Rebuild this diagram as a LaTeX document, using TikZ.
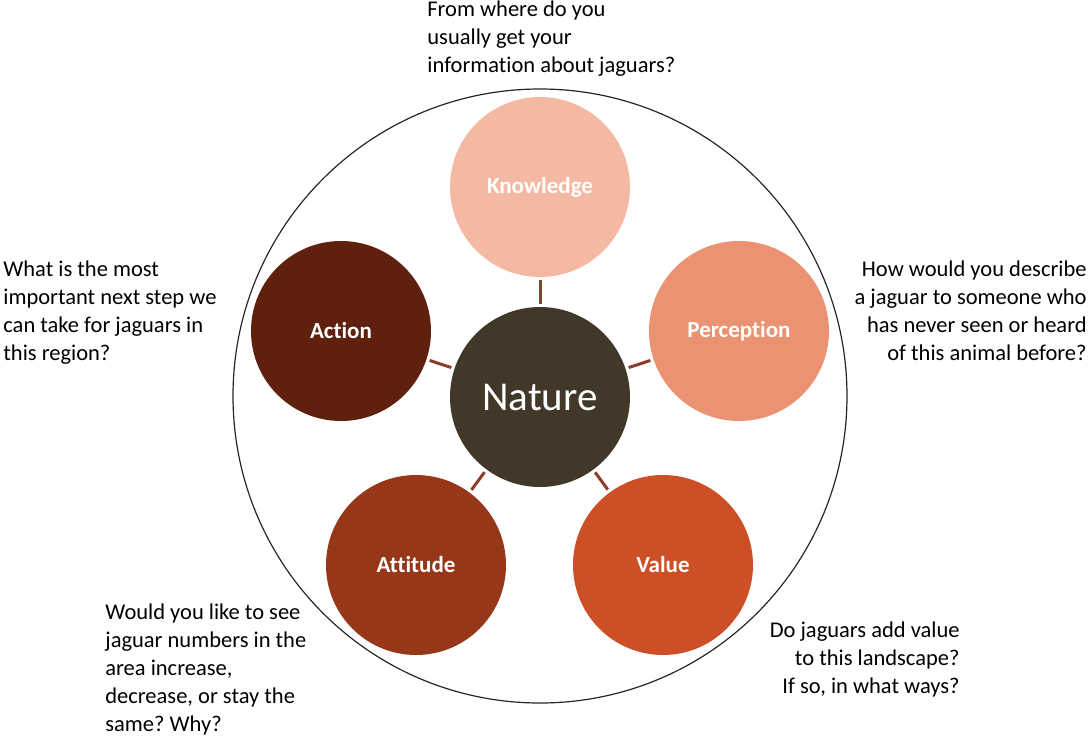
\documentclass[tikz,border=0pt]{standalone}
\usepackage{fontspec}
\setmainfont{Carlito}[Ligatures=NoCommon]
\usetikzlibrary{positioning}
\frenchspacing

\definecolor{natcol}{HTML}{413829}
\definecolor{knowcol}{HTML}{F4B9A2}
\definecolor{perccol}{HTML}{EA9272}
\definecolor{valcol}{HTML}{CD4F25}
\definecolor{attcol}{HTML}{963719}
\definecolor{actcol}{HTML}{5F200D}
\definecolor{linkcol}{HTML}{8E3B2E}

\begin{document}
\begin{tikzpicture}[x=0.5pt,y=-0.5pt,
  every node/.style={inner sep=0pt},
  stage/.style={circle,minimum size=90pt,text=white,font=\fontsize{11.5}{14}\selectfont\bfseries},
  question/.style={font=\fontsize{11.25}{14}\selectfont},
  link/.style={draw=linkcol,line width=1.5pt,shorten <=1.5pt,shorten >=1.5pt}]
  \useasboundingbox (0,0) rectangle (1089,735);
  % outer ring and centre
  \node[circle,draw=black!85,line width=0.6pt,minimum size=307pt] (ring) at (540,396) {};
  \node[stage,fill=natcol,font=\fontsize{20.5}{24}\selectfont] (nature) at (540,397) {Nature};
  % the five stages
  \node[stage,fill=knowcol] (know) at (540,187) {Knowledge};
  \node[stage,fill=perccol] (perc) at (739,331) {Perception};
  \node[stage,fill=valcol] (val) at (663,565) {Value};
  \node[stage,fill=attcol] (att) at (416,565) {Attitude};
  \node[stage,fill=actcol] (act) at (341,331) {Action};
  \foreach \n in {know,perc,val,att,act}
    \draw[link] (nature) -- (\n);
  % questions (base = last line)
  \node[question,align=left,anchor=base west] (qknow) at (427,72)
    {From where do you\\usually get your\\information about jaguars?};
  \node[question,align=left,anchor=base west] (qact) at (3,360)
    {What is the most\\important next step we\\can take for jaguars in\\this region?};
  \node[question,align=right,anchor=base east] (qperc) at (1087,360)
    {How would you describe\\a jaguar to someone who\\has never seen or heard\\of this animal before?};
  \node[question,align=left,anchor=base west] (qatt) at (105,731)
    {Would you like to see\\jaguar numbers in the\\area increase,\\decrease, or stay the\\same? Why?};
  \node[question,align=right,anchor=base east] (qval) at (960,693)
    {Do jaguars add value\\to this landscape?\\If so, in what ways?};
\end{tikzpicture}
\end{document}
